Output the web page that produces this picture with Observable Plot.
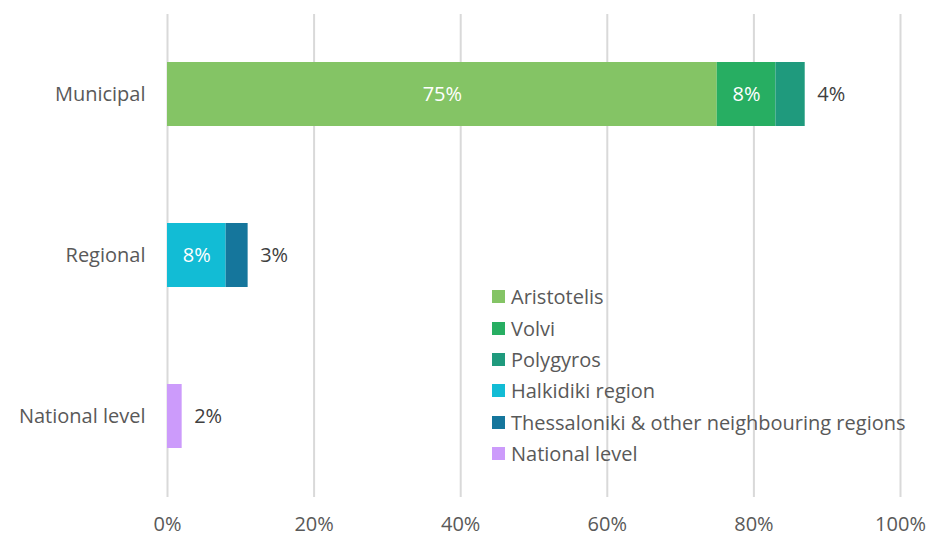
<!DOCTYPE html>
<html>
<head>
<meta charset="utf-8">
<script src="https://cdn.jsdelivr.net/npm/d3@7"></script>
<script src="https://cdn.jsdelivr.net/npm/@observablehq/plot@0.6"></script>
<style>
  html, body { margin: 0; padding: 0; background: #fff; }
  #wrap { position: relative; width: 927px; height: 538px; font-family: "Open Sans", sans-serif; }
  #legend { position: absolute; left: 492px; top: 281px; font-size: 20px; color: #595959; }
  #legend .row { display: flex; align-items: center; height: 31.4px; white-space: nowrap; }
  #legend .sw { width: 13px; height: 13px; margin-right: 6px; }
</style>
</head>
<body>
<div id="wrap"><div id="legend"></div></div>
<script>
const categories = ["Municipal", "Regional", "National level"];
const seriesNames = ["Aristotelis", "Volvi", "Polygyros", "Halkidiki region", "Thessaloniki & other neighbouring regions", "National level"];
const seriesCategory = ["Municipal", "Municipal", "Municipal", "Regional", "Regional", "National level"];
const seriesValues = [75, 8, 4, 8, 3, 2];
const seriesColors = ["#84C465", "#27AE62", "#1F9A7D", "#12BCD5", "#15769C", "#CC9BFB"];
const xTicks = [0, 20, 40, 60, 80, 100];

const data = seriesNames.map((s, i) => ({series: s, cat: seriesCategory[i], value: seriesValues[i]}));
const lastIdx = categories.map(c => seriesCategory.lastIndexOf(c));
const cum = {};
const rows = data.map((d, i) => {
  const start = cum[d.cat] || 0;
  cum[d.cat] = start + d.value;
  return {...d, start, end: start + d.value, mid: start + d.value / 2, last: lastIdx.includes(i)};
});

const plot = Plot.plot({
  width: 927,
  height: 538,
  marginLeft: 167,
  marginRight: 27,
  marginTop: 14,
  marginBottom: 41,
  style: {fontFamily: "'Open Sans', sans-serif", fontSize: "20px", color: "#595959", background: "transparent"},
  x: {domain: [0, 100], ticks: xTicks, tickFormat: d => d + "%", tickSize: 0, tickPadding: 19, label: null},
  y: {domain: categories, paddingInner: 0.6, paddingOuter: 0.3, align: 0.5, tickSize: 0, tickPadding: 22, label: null},
  color: {domain: seriesNames, range: seriesColors},
  marks: [
    Plot.ruleX(xTicks, {stroke: "#d9d9d9", strokeWidth: 2}),
    Plot.barX(rows, {x1: "start", x2: "end", y: "cat", fill: "series"}),
    Plot.text(rows.filter(d => !d.last), {x: "mid", y: "cat", text: d => d.value + "%", fill: "white", fontSize: 20}),
    Plot.text(rows.filter(d => d.last), {x: "end", y: "cat", text: d => d.value + "%", fill: "#404040", fontSize: 20, textAnchor: "start", dx: 12})
  ]
});
const wrap = document.getElementById("wrap");
wrap.insertBefore(plot, wrap.firstChild);

const legend = document.getElementById("legend");
seriesNames.forEach((s, i) => {
  const r = document.createElement("div");
  r.className = "row";
  r.innerHTML = `<span class="sw" style="background:${seriesColors[i]}"></span><span>${s}</span>`;
  legend.appendChild(r);
});
</script>
</body>
</html>
